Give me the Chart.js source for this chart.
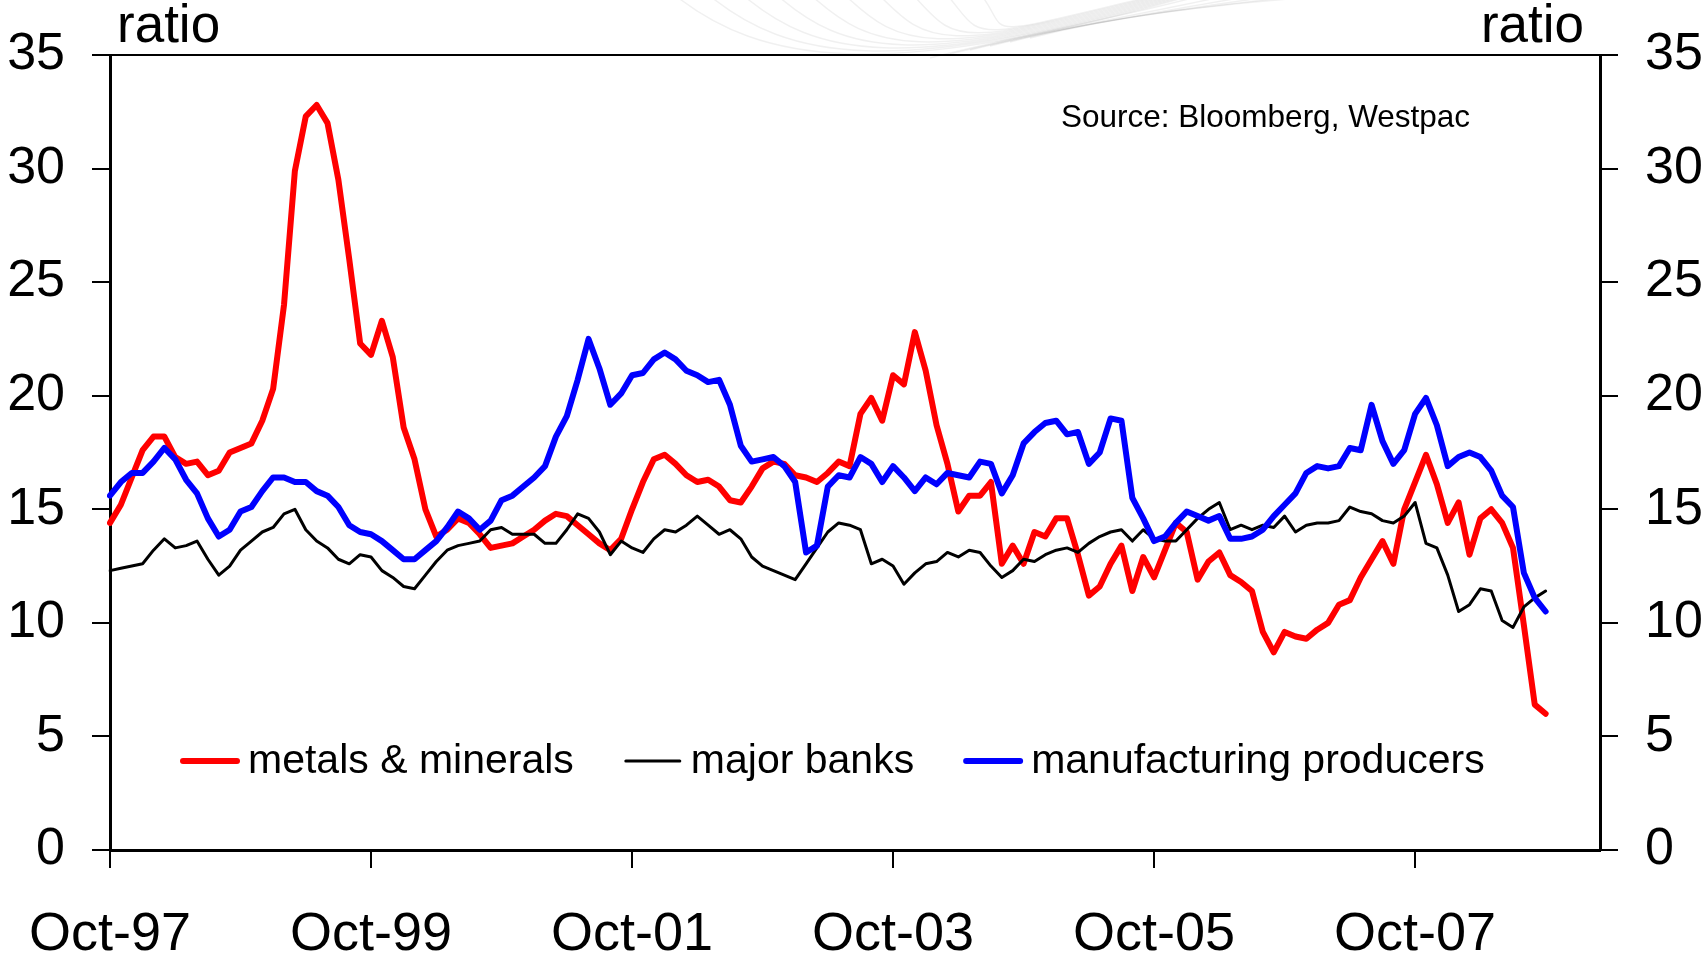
<!DOCTYPE html>
<html>
<head>
<meta charset="utf-8">
<script src="https://cdn.jsdelivr.net/npm/chart.js@4.4.1/dist/chart.umd.min.js"></script>
<style>
  html, body { margin: 0; padding: 0; background: #fff; }
  #wrap { width: 1706px; height: 958px; position: relative; }
</style>
</head>
<body>
<div id="wrap"><canvas id="ratioChart"></canvas></div>
<script>
// monthly P/E ratios, Oct-97 .. Oct-08
const metalsMinerals = [
  14.4, 15.2, 16.4, 17.6, 18.2, 18.2, 17.3, 17.0, 17.1, 16.5, 16.7, 17.5,
  17.7, 17.9, 18.9, 20.3, 24.0, 29.9, 32.3, 32.8, 32.0, 29.5, 26.0, 22.3,
  21.8, 23.3, 21.7, 18.6, 17.2, 15.0, 13.8, 14.1, 14.6, 14.4, 13.9, 13.3,
  13.4, 13.5, 13.8, 14.1, 14.5, 14.8, 14.7, 14.3, 13.9, 13.5, 13.2, 13.7,
  15.0, 16.2, 17.2, 17.4, 17.0, 16.5, 16.2, 16.3, 16.0, 15.4, 15.3, 16.0,
  16.8, 17.1, 17.0, 16.5, 16.4, 16.2, 16.6, 17.1, 16.9, 19.2, 19.9, 18.9,
  20.9, 20.5, 22.8, 21.1, 18.7, 17.0, 14.9, 15.6, 15.6, 16.2, 12.6, 13.4,
  12.6, 14.0, 13.8, 14.6, 14.6, 13.0, 11.2, 11.6, 12.6, 13.4, 11.4, 12.9,
  12.0, 13.2, 14.4, 14.0, 11.9, 12.7, 13.1, 12.1, 11.8, 11.4, 9.6, 8.7,
  9.6, 9.4, 9.3, 9.7, 10.0, 10.8, 11.0, 12.0, 12.8, 13.6, 12.6, 15.0,
  16.2, 17.4, 16.1, 14.4, 15.3, 13.0, 14.6, 15.0, 14.4, 13.3, 9.9, 6.4,
  6.0
];
const majorBanks = [
  12.3, 12.4, 12.5, 12.6, 13.2, 13.7, 13.3, 13.4, 13.6, 12.8, 12.1, 12.5,
  13.2, 13.6, 14.0, 14.2, 14.8, 15.0, 14.1, 13.6, 13.3, 12.8, 12.6, 13.0,
  12.9, 12.3, 12.0, 11.6, 11.5, 12.1, 12.7, 13.2, 13.4, 13.5, 13.6, 14.1,
  14.2, 13.9, 13.9, 13.9, 13.5, 13.5, 14.1, 14.8, 14.6, 14.0, 13.0, 13.6,
  13.3, 13.1, 13.7, 14.1, 14.0, 14.3, 14.7, 14.3, 13.9, 14.1, 13.7, 12.9,
  12.5, 12.3, 12.1, 11.9, 12.6, 13.3, 14.0, 14.4, 14.3, 14.1, 12.6, 12.8,
  12.5, 11.7, 12.2, 12.6, 12.7, 13.1, 12.9, 13.2, 13.1, 12.5, 12.0, 12.3,
  12.8, 12.7, 13.0, 13.2, 13.3, 13.1, 13.5, 13.8, 14.0, 14.1, 13.6, 14.1,
  13.7, 13.6, 13.6, 14.1, 14.6, 15.0, 15.3, 14.1, 14.3, 14.1, 14.3, 14.2,
  14.7, 14.0, 14.3, 14.4, 14.4, 14.5, 15.1, 14.9, 14.8, 14.5, 14.4, 14.7,
  15.3, 13.5, 13.3, 12.1, 10.5, 10.8, 11.5, 11.4, 10.1, 9.8, 10.7, 11.1,
  11.4
];
const manufacturing = [
  15.6, 16.2, 16.6, 16.6, 17.1, 17.7, 17.2, 16.3, 15.7, 14.6, 13.8, 14.1,
  14.9, 15.1, 15.8, 16.4, 16.4, 16.2, 16.2, 15.8, 15.6, 15.1, 14.3, 14.0,
  13.9, 13.6, 13.2, 12.8, 12.8, 13.2, 13.6, 14.2, 14.9, 14.6, 14.1, 14.5,
  15.4, 15.6, 16.0, 16.4, 16.9, 18.2, 19.1, 20.7, 22.5, 21.2, 19.6, 20.1,
  20.9, 21.0, 21.6, 21.9, 21.6, 21.1, 20.9, 20.6, 20.7, 19.6, 17.8, 17.1,
  17.2, 17.3, 16.9, 16.2, 13.1, 13.4, 16.0, 16.5, 16.4, 17.3, 17.0, 16.2,
  16.9, 16.4, 15.8, 16.4, 16.1, 16.6, 16.5, 16.4, 17.1, 17.0, 15.7, 16.5,
  17.9, 18.4, 18.8, 18.9, 18.3, 18.4, 17.0, 17.5, 19.0, 18.9, 15.5, 14.6,
  13.6, 13.8, 14.4, 14.9, 14.7, 14.5, 14.7, 13.7, 13.7, 13.8, 14.1, 14.7,
  15.2, 15.7, 16.6, 16.9, 16.8, 16.9, 17.7, 17.6, 19.6, 18.0, 17.0, 17.6,
  19.2, 19.9, 18.7, 16.9, 17.3, 17.5, 17.3, 16.7, 15.6, 15.1, 12.2, 11.1,
  10.5
];
const seriesNames = ['metals & minerals', 'major banks', 'manufacturing producers'];
const tickLabels = ['Oct-97', 'Oct-99', 'Oct-01', 'Oct-03', 'Oct-05', 'Oct-07'];
const yTicks = [0, 5, 10, 15, 20, 25, 30, 35];

// month axis runs Oct-97 .. Mar-09
const monthNames = ['Jan', 'Feb', 'Mar', 'Apr', 'May', 'Jun', 'Jul', 'Aug', 'Sep', 'Oct', 'Nov', 'Dec'];
const months = [];
for (let k = 0; k < 138; k++) {
  const m = (9 + k) % 12;
  const yr = (97 + Math.floor((9 + k) / 12)) % 100;
  months.push(monthNames[m] + '-' + String(yr).padStart(2, '0'));
}

const FONT = "'Liberation Sans', Arial, sans-serif";
const colors = ['#ff0000', '#000000', '#0000ff'];
const widths = [6, 3, 6];

// faint template swirl behind the top edge of the plot
const swirl = {
  id: 'swirl',
  beforeDraw(chart) {
    const c = chart.ctx;
    c.save();
    c.strokeStyle = 'rgba(0,0,0,0.06)';
    c.lineWidth = 1.5;
    for (let k = 0; k < 10; k++) {
      c.beginPath();
      c.moveTo(676 + 34 * k, -4);
      c.bezierCurveTo(760 + 28 * k, 62 - 3 * k, 880 + 10 * k, 84 - 5 * k, 1190 - 4 * k, -4);
      c.stroke();
    }
    for (let k = 0; k < 6; k++) {
      c.beginPath();
      c.moveTo(930 + 20 * k, 58 - 4 * k);
      c.bezierCurveTo(1020 + 20 * k, 35 - 4 * k, 1110 + 20 * k, 20 - 3 * k, 1200 + 25 * k, -4);
      c.stroke();
    }
    c.restore();
  }
};

// text drawn straight onto the canvas: unit labels, source note, legend
const overlayText = {
  id: 'overlayText',
  afterDraw(chart) {
    const c = chart.ctx;
    const area = chart.chartArea;
    c.save();
    c.fillStyle = '#000';
    c.textBaseline = 'alphabetic';
    c.font = '53px ' + FONT;
    c.textAlign = 'left';
    c.fillText('ratio', area.left + 7, 42);
    c.textAlign = 'right';
    c.fillText('ratio', area.right - 16, 42);

    c.font = '31.5px ' + FONT;
    c.textAlign = 'left';
    c.textBaseline = 'middle';
    c.fillText('Source: Bloomberg, Westpac', 1061, 118);

    // legend row inside the plot
    c.font = '41px ' + FONT;
    let x = 183;
    const y = 761;
    seriesNames.forEach((name, i) => {
      c.strokeStyle = colors[i];
      c.lineWidth = widths[i];
      c.lineCap = 'round';
      c.beginPath();
      c.moveTo(x, y);
      c.lineTo(x + 54, y);
      c.stroke();
      x += 65;
      c.fillText(name, x, y + 1);
      x += c.measureText(name).width + 52;
    });
    c.restore();
  }
};

// chart area is pinned; keep the scales from padding it out for edge labels
const noEdgePad = s => {
  s.paddingLeft = 0;
  s.paddingRight = 0;
  s.paddingTop = 0;
  s.paddingBottom = 0;
};

const ctx = document.getElementById('ratioChart').getContext('2d');
const ratioChart = new Chart(ctx, {
  type: 'line',
  data: {
    labels: months,
    datasets: [
      { label: seriesNames[0], data: metalsMinerals, order: 3 },
      { label: seriesNames[1], data: majorBanks, order: 2 },
      { label: seriesNames[2], data: manufacturing, order: 1 }
    ].map((d, i) => Object.assign(d, {
      borderColor: colors[i],
      borderWidth: widths[i],
      pointRadius: 0,
      tension: 0,
      fill: false,
      borderJoinStyle: 'round',
      borderCapStyle: 'round'
    }))
  },
  options: {
    responsive: true,
    maintainAspectRatio: false,
    animation: false,
    devicePixelRatio: 1,
    layout: { padding: { top: 55, left: 0, right: 0, bottom: 0 } },
    plugins: {
      legend: { display: false },
      tooltip: { enabled: false }
    },
    scales: {
      x: {
        type: 'category',
        offset: false,
        afterBuildTicks: s => {
          s.ticks = s.ticks.filter(t => tickLabels.includes(months[t.value]));
        },
        afterFit: s => { s.height = 108; noEdgePad(s); },
        ticks: {
          autoSkip: false,
          maxRotation: 0,
          padding: 35,
          color: '#000',
          font: { family: FONT, size: 54 },
          callback: v => months[v]
        },
        grid: {
          drawOnChartArea: false,
          tickLength: 18,
          color: '#000',
          lineWidth: 2
        },
        border: { color: '#000', width: 3 }
      },
      y: {
        position: 'left',
        min: 0,
        max: 35,
        afterBuildTicks: s => { s.ticks = yTicks.map(v => ({ value: v })); },
        afterFit: s => { s.width = 110; noEdgePad(s); },
        ticks: {
          padding: 27,
          color: '#000',
          font: { family: FONT, size: 52 }
        },
        grid: {
          tickLength: 18,
          lineWidth: 2,
          color: c => (c.tick && c.tick.value === 35 ? '#000' : 'rgba(0,0,0,0)'),
          tickColor: '#000'
        },
        border: { color: '#000', width: 3 }
      },
      y2: {
        position: 'right',
        min: 0,
        max: 35,
        afterBuildTicks: s => { s.ticks = yTicks.map(v => ({ value: v })); },
        afterFit: s => { s.width = 106; noEdgePad(s); },
        ticks: {
          padding: 27,
          color: '#000',
          font: { family: FONT, size: 52 }
        },
        grid: {
          drawOnChartArea: false,
          tickLength: 18,
          lineWidth: 2,
          color: '#000'
        },
        border: { color: '#000', width: 3 }
      }
    }
  },
  plugins: [swirl, overlayText]
});
</script>
</body>
</html>
